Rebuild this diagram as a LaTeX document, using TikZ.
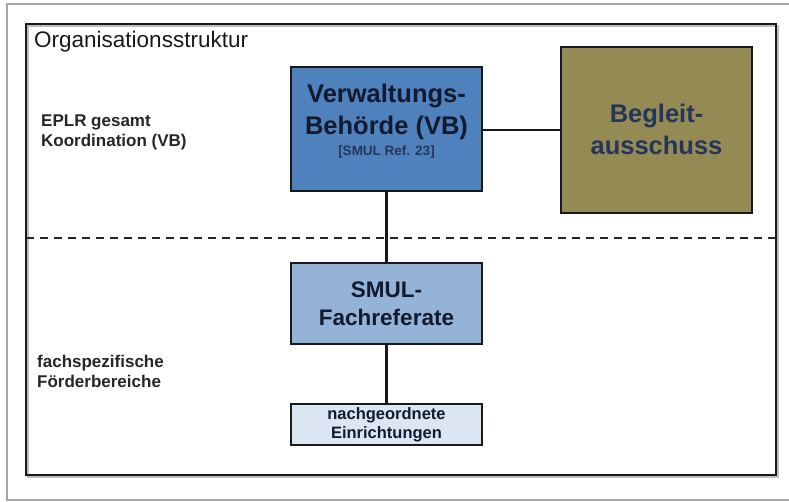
\documentclass[tikz,border=0pt]{standalone}
\usepackage{fontspec}
\setmainfont{Liberation Sans}
\definecolor{vbblue}{HTML}{4F81BD}
\definecolor{smulblue}{HTML}{95B3D7}
\definecolor{nachblue}{HTML}{DCE6F2}
\definecolor{olive}{HTML}{948A54}
\definecolor{darktxt}{HTML}{111A30}
\definecolor{begtxt}{HTML}{26365A}
\definecolor{framegray}{HTML}{A6A6A6}
\begin{document}
\begin{tikzpicture}[x=1pt,y=-1pt,
  box/.style={draw=black!90,line width=2pt,rectangle,inner sep=0pt},
  conn/.style={draw=black!90,line width=2.2pt},
  lbl/.style={inner sep=0pt,anchor=base west,font=\fontsize{17}{20}\selectfont\bfseries,text=black!85},
  big/.style={inner sep=0pt,anchor=base,font=\fontsize{25.5}{30}\selectfont\bfseries},
  mid/.style={inner sep=0pt,anchor=base,font=\fontsize{22.5}{27}\selectfont\bfseries,text=darktxt},
  small/.style={inner sep=0pt,anchor=base,font=\fontsize{16.5}{19}\selectfont\bfseries,text=darktxt}]
\useasboundingbox (0,0) rectangle (789,502);
% outer grey frame (open to the right)
\draw[framegray,line width=1.5pt] (792,4) -- (7,4) -- (7,500) -- (792,500);
% inner black frame with slight shadow
\draw[black!25,line width=2.5pt] (28,26) rectangle (778,477);
\draw[black!90,line width=2.5pt] (26,24) rectangle (776,475);
% separator
\coordinate (dl) at (26,238);
\coordinate (dr) at (776,238);
\draw[black!85,line width=2pt,dash pattern=on 8pt off 6pt] (dl) -- (dr);
% boxes
\node[box,fill=vbblue,minimum width=191pt,minimum height=124pt] (vb) at (386.5,129) {};
\node[box,fill=olive,minimum width=191pt,minimum height=166pt] (beg) at (656.5,130) {};
\node[box,fill=smulblue,minimum width=191pt,minimum height=81pt] (smul) at (386.5,303.5) {};
\node[box,fill=nachblue,minimum width=191pt,minimum height=41pt] (nach) at (386.5,424.5) {};
% connectors
\draw[conn] (vb.east |- 0,130) -- (beg.west |- 0,130);
\draw[conn] (vb.south) -- (smul.north);
\draw[conn] (smul.south) -- (nach.north);
% texts
\node[inner sep=0pt,anchor=base west,font=\fontsize{22.5}{26}\selectfont,text=black!90] (title) at (34,48) {Organisationsstruktur};
\node[lbl] (l1a) at (41,127) {EPLR gesamt};
\node[lbl] (l1b) at (41,147) {Koordination (VB)};
\node[lbl] (l2a) at (37,367) {fachspezifische};
\node[lbl] (l2b) at (37,387) {Förderbereiche};
\node[big,text=darktxt] (vbt1) at (386.5,103) {Verwaltungs-};
\node[big,text=darktxt] (vbt2) at (386.5,135) {Behörde (VB)};
\node[inner sep=0pt,anchor=base,font=\fontsize{13.5}{15}\selectfont\bfseries,text=begtxt] (vbt3) at (386.5,156) {[SMUL Ref. 23]};
\node[big,text=begtxt] (bt1) at (656.5,123) {Begleit-};
\node[big,text=begtxt] (bt2) at (656.5,155) {ausschuss};
\node[mid] (st1) at (386.5,298) {SMUL-};
\node[mid] (st2) at (386.5,326) {Fachreferate};
\node[small] (nt1) at (386.5,419.5) {nachgeordnete};
\node[small] (nt2) at (386.5,438.5) {Einrichtungen};
\end{tikzpicture}
\end{document}
